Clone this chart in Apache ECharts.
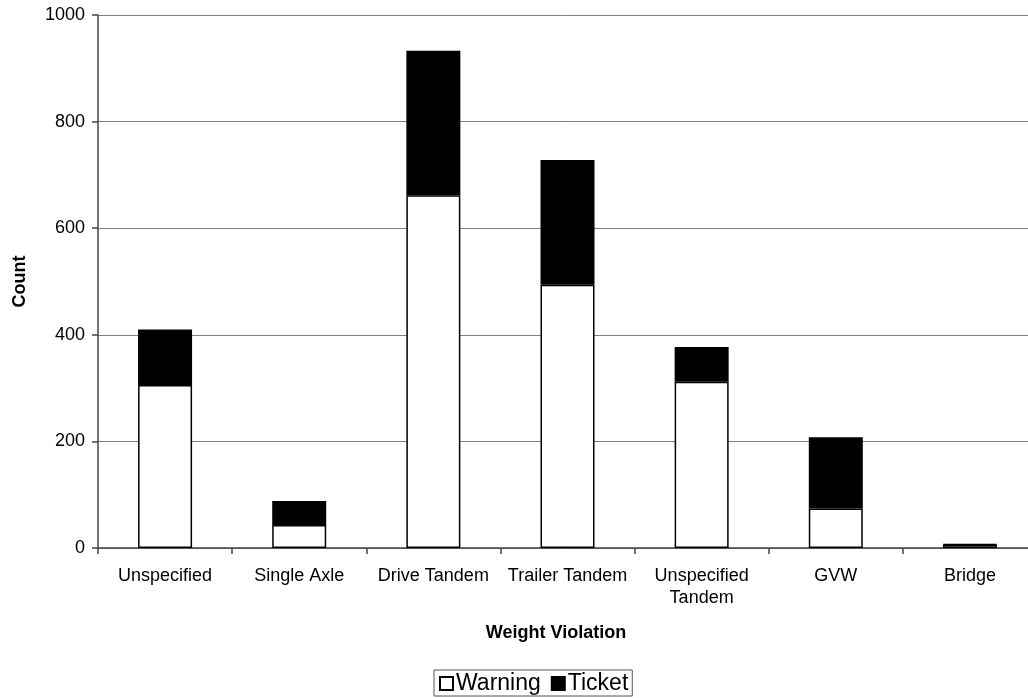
<!DOCTYPE html>
<html>
<head>
<meta charset="utf-8">
<script src="https://cdn.jsdelivr.net/npm/echarts@6/dist/echarts.min.js"></script>
<style>
  html, body { margin: 0; padding: 0; background: #fff; }
  #chart { width: 1028px; height: 698px; }
</style>
</head>
<body>
<div id="chart"></div>
<script>
// Weight violation counts, split into warnings and tickets
const categories = ['Unspecified', 'Single Axle', 'Drive Tandem', 'Trailer Tandem', 'Unspecified\nTandem', 'GVW', 'Bridge'];
const warning = [306, 43, 662, 494, 312, 74, 6];
const ticket = [104, 45, 271, 234, 65, 134, 1];
const yTicks = { min: 0, max: 1000, interval: 200 };

const font = 'Liberation Sans, Arial, sans-serif';

const chart = echarts.init(document.getElementById('chart'), null, { renderer: 'canvas' });
chart.setOption({
  animation: false,
  backgroundColor: '#fff',
  textStyle: { fontFamily: font, color: '#000' },
  // plot area runs slightly past the right edge of the canvas
  grid: { left: 98, width: 939, top: 15, bottom: 150, containLabel: false, outerBoundsMode: 'none' },
  legend: {
    bottom: 2,
    left: 434,
    icon: 'rect',
    itemWidth: 13,
    itemHeight: 13,
    itemGap: 10,
    borderColor: '#555',
    borderWidth: 1,
    borderRadius: 0,
    padding: [2, 4, 1, 5],
    textStyle: { fontFamily: font, fontSize: 23, color: '#000', padding: [0, 0, 0, -2] },
    data: ['Warning', 'Ticket']
  },
  xAxis: {
    type: 'category',
    data: categories,
    name: 'Weight Violation',
    nameLocation: 'middle',
    nameGap: 76,
    nameTextStyle: { fontFamily: font, fontSize: 18, fontWeight: 'bold', color: '#000', padding: [0, 23, 0, 0] },
    axisLine: { lineStyle: { color: '#444', width: 1.5 } },
    axisTick: { show: true, length: 6, lineStyle: { color: '#444', width: 1.5 } },
    axisLabel: { fontFamily: font, fontSize: 18, color: '#000', margin: 17, lineHeight: 22, interval: 0 }
  },
  yAxis: {
    type: 'value',
    min: yTicks.min,
    max: yTicks.max,
    interval: yTicks.interval,
    name: 'Count',
    nameLocation: 'middle',
    nameGap: 69,
    nameRotate: 90,
    nameTextStyle: { fontFamily: font, fontSize: 18, fontWeight: 'bold', color: '#000' },
    axisLine: { show: true, lineStyle: { color: '#444', width: 1.5 } },
    axisTick: { show: true, length: 6, lineStyle: { color: '#444', width: 1.5 } },
    axisLabel: { fontFamily: font, fontSize: 18, color: '#000', margin: 13, formatter: v => String(v) },
    splitLine: { show: true, lineStyle: { color: '#808080', width: 1 } }
  },
  series: [
    {
      name: 'Warning',
      type: 'bar',
      stack: 'total',
      data: warning,
      barWidth: 54,
      itemStyle: { color: '#fff', borderColor: '#000', borderWidth: 1.5 }
    },
    {
      name: 'Ticket',
      type: 'bar',
      stack: 'total',
      data: ticket,
      barWidth: 54,
      itemStyle: { color: '#000', borderColor: '#000', borderWidth: 1.5 }
    }
  ]
});
</script>
</body>
</html>
